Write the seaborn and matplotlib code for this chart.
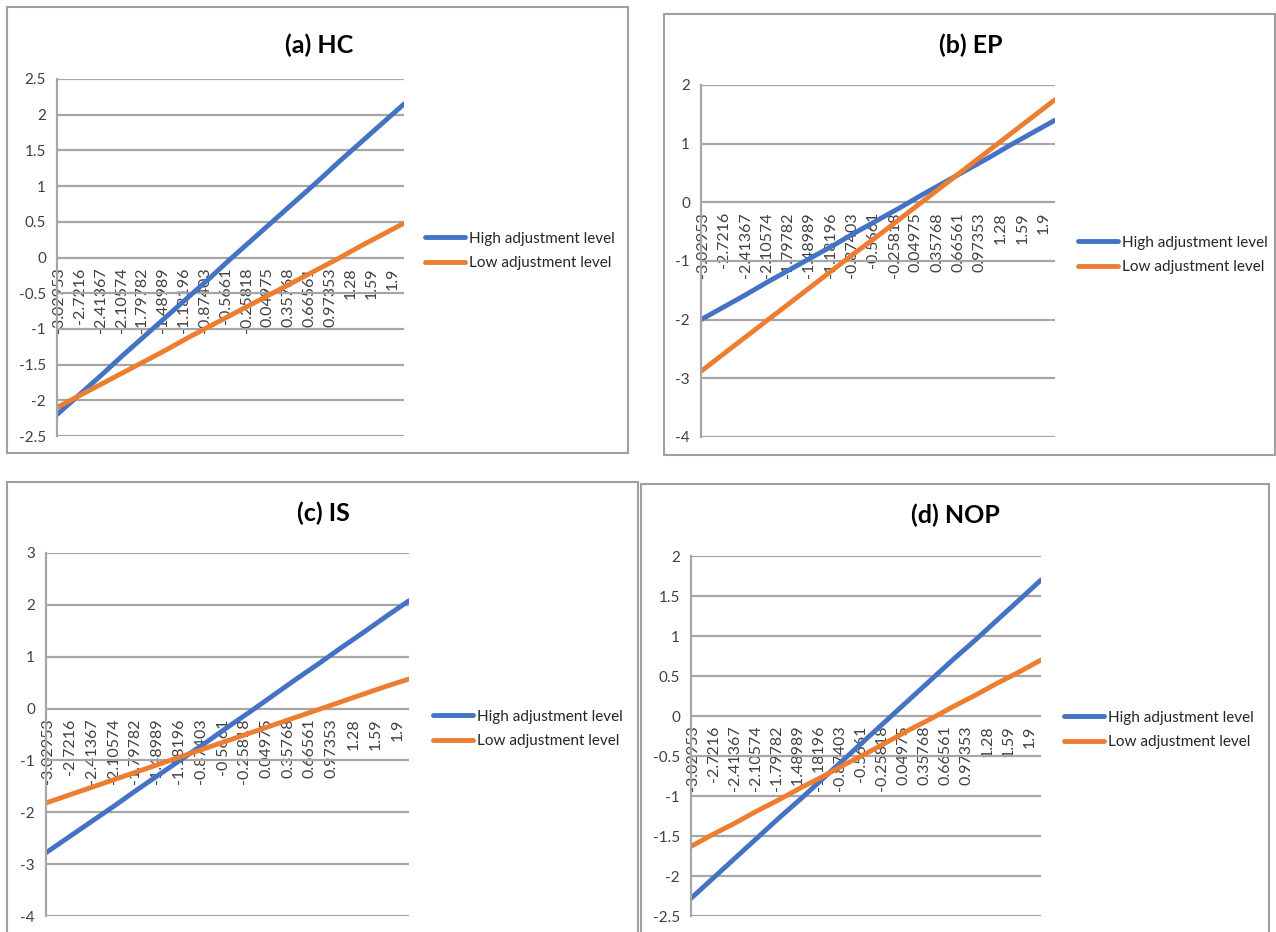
import numpy as np
import pandas as pd
import seaborn as sns
import matplotlib.pyplot as plt
from matplotlib.patches import Rectangle

# category labels on the x axis (shared by all four panels)
x_labels = ['-3.02953', '-2.7216', '-2.41367', '-2.10574', '-1.79782', '-1.48989',
            '-1.18196', '-0.87403', '-0.5661', '-0.25818', '0.04975', '0.35768',
            '0.66561', '0.97353', '1.28', '1.59', '1.9']

series_names = ['High adjustment level', 'Low adjustment level']

# (a) HC
hc_high = [-2.20, -1.93, -1.66, -1.38, -1.11, -0.84, -0.57, -0.30, -0.02,
           0.25, 0.52, 0.79, 1.06, 1.34, 1.61, 1.88, 2.15]
hc_low = [-2.10, -1.94, -1.78, -1.62, -1.46, -1.30, -1.13, -0.97, -0.81,
          -0.65, -0.49, -0.33, -0.17, -0.01, 0.16, 0.32, 0.48]

# (b) EP
ep_high = [-2.00, -1.79, -1.58, -1.36, -1.15, -0.94, -0.73, -0.51, -0.30,
           -0.09, 0.13, 0.34, 0.55, 0.76, 0.98, 1.19, 1.40]
ep_low = [-2.88, -2.59, -2.30, -2.01, -1.72, -1.43, -1.14, -0.85, -0.57,
          -0.28, 0.01, 0.30, 0.59, 0.88, 1.17, 1.46, 1.75]

# (c) IS
is_high = [-2.78, -2.48, -2.18, -1.88, -1.57, -1.27, -0.97, -0.67, -0.36,
           -0.06, 0.25, 0.56, 0.86, 1.17, 1.47, 1.78, 2.08]
is_low = [-1.82, -1.67, -1.52, -1.37, -1.22, -1.07, -0.92, -0.77, -0.62,
          -0.47, -0.32, -0.17, -0.02, 0.13, 0.28, 0.43, 0.57]

# (d) NOP
nop_high = [-2.28, -2.03, -1.78, -1.53, -1.28, -1.04, -0.79, -0.54, -0.29,
            -0.04, 0.21, 0.46, 0.71, 0.95, 1.20, 1.45, 1.70]
nop_low = [-1.63, -1.48, -1.34, -1.19, -1.05, -0.90, -0.76, -0.61, -0.47,
           -0.32, -0.17, -0.03, 0.12, 0.26, 0.41, 0.55, 0.70]

titles = ['(a) HC', '(b) EP', '(c) IS', '(d) NOP']
y_ticks = [np.arange(-2.5, 2.51, 0.5), np.arange(-4, 2.1, 1),
           np.arange(-4, 3.1, 1), np.arange(-2.5, 2.01, 0.5)]

sns.set_style('white')
plt.rcParams['font.family'] = ['Lato', 'DejaVu Sans']
plt.rcParams['axes.unicode_minus'] = False

W, H = 1276, 932
fig = plt.figure(figsize=(W / 100, H / 100), dpi=100)

# pixel boxes: axes (left, right, top, bottom), border, title centre, legend anchor
panels = [
    dict(ax=(57, 404, 79, 436), box=(7, 7, 628, 453), title=(319, 45), leg=(425, 251),
         high=hc_high, low=hc_low),
    dict(ax=(701, 1055, 85, 437), box=(664, 14, 1275, 455), title=(971, 45), leg=(1078, 255),
         high=ep_high, low=ep_low),
    dict(ax=(46, 409, 553, 916), box=(7, 482, 638, 940), title=(323, 513), leg=(433, 729),
         high=is_high, low=is_low),
    dict(ax=(691, 1041, 556, 916), box=(641, 484, 1269, 940), title=(955, 515), leg=(1064, 730),
         high=nop_high, low=nop_low),
]

palette = {series_names[0]: '#4472C4', series_names[1]: '#ED7D31'}
grid_col = '#A6A6A6'
text_col = '#404040'

# the category labels in the original sit a little tighter than the line points
label_step = 0.962
label_shift = 0.09

for p, title, yt in zip(panels, titles, y_ticks):
    l, r, t, b = p['ax']
    ax = fig.add_axes([l / W, 1 - b / H, (r - l) / W, (b - t) / H])
    # x labels hang from the zero line, as in the original
    ax.spines['bottom'].set_position(('data', 0))

    df = pd.DataFrame({
        'x': list(range(len(x_labels))) * 2,
        'value': p['high'] + p['low'],
        'series': [series_names[0]] * len(x_labels) + [series_names[1]] * len(x_labels),
    })
    sns.lineplot(data=df, x='x', y='value', hue='series', palette=palette,
                 linewidth=3.5, ax=ax)

    ax.set_xlim(0, len(x_labels) - 1)
    ax.set_ylim(yt[0], yt[-1])
    ax.set_yticks(yt)
    ax.set_yticklabels(['{:g}'.format(round(v, 2)) for v in yt])
    ax.set_xticks(np.arange(len(x_labels)) * label_step + label_shift)
    ax.set_xticklabels(x_labels)
    ax.set_xlabel('')
    ax.set_ylabel('')

    ax.yaxis.grid(True, color=grid_col, linewidth=1.6)
    ax.set_axisbelow(True)
    ax.spines['bottom'].set_visible(False)
    ax.spines['top'].set_visible(False)
    ax.spines['right'].set_visible(False)
    ax.spines['left'].set_color(grid_col)
    ax.spines['left'].set_linewidth(1.6)
    ax.tick_params(axis='both', length=0, labelsize=11, colors=text_col)
    ax.tick_params(axis='y', pad=8)
    ax.tick_params(axis='x', pad=7, labelrotation=90, labelsize=11.5)

    lx, ly = p['leg']
    ax.legend(title=None, loc='center left', bbox_to_anchor=(lx / W, 1 - ly / H),
              bbox_transform=fig.transFigure, frameon=False, fontsize=11,
              handlelength=2.6, handletextpad=0.3, labelspacing=0.7,
              borderpad=0, borderaxespad=0)

    tx, ty = p['title']
    fig.text(tx / W, 1 - ty / H, title, ha='center', va='center',
             fontsize=18, fontweight='bold', color='black')

    x0, y0, x1, y1 = p['box']
    fig.add_artist(Rectangle((x0 / W, 1 - y1 / H), (x1 - x0) / W, (y1 - y0) / H,
                             transform=fig.transFigure, fill=False,
                             edgecolor='#A0A0A0', linewidth=1.5))

fig.savefig('out.png', dpi=100)
